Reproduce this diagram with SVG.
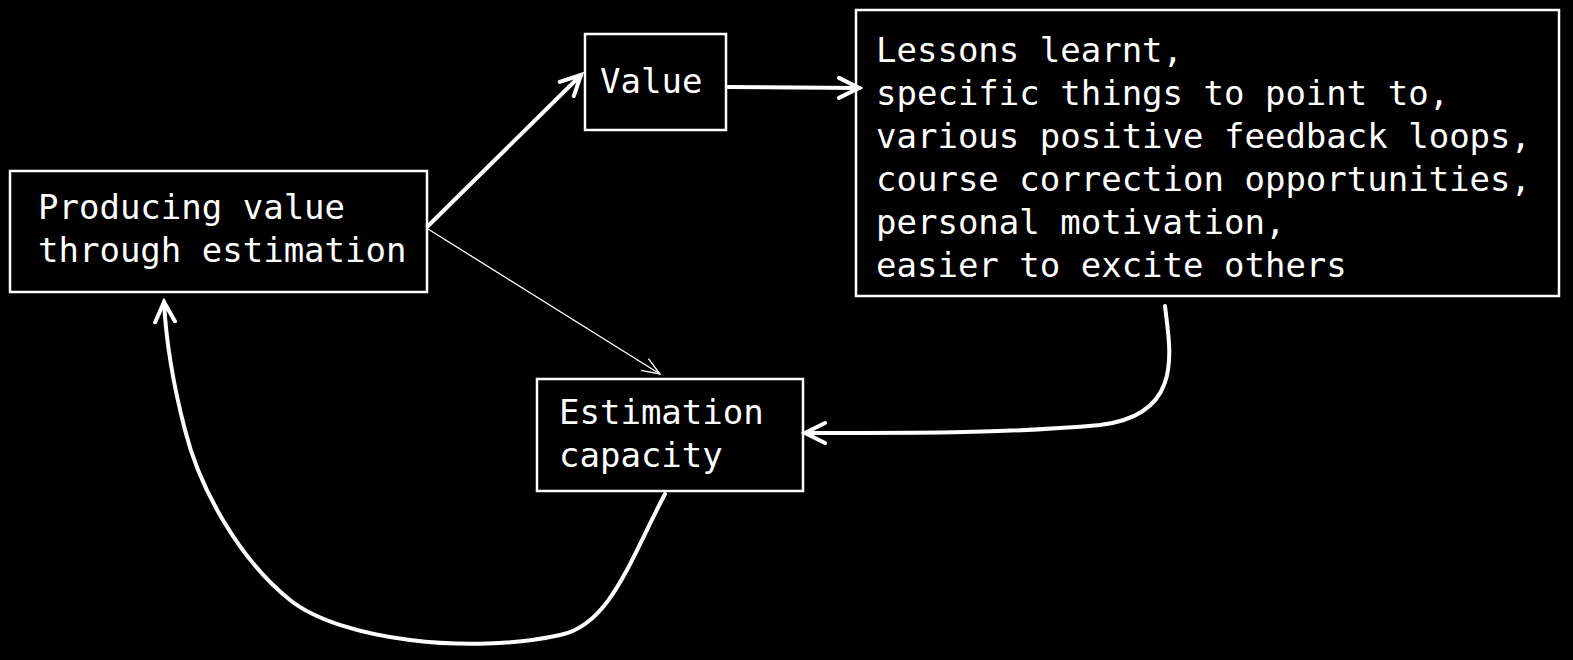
<svg xmlns="http://www.w3.org/2000/svg" width="1573" height="660" viewBox="0 0 1573 660">
<style>
.box{fill:none;stroke:#fff;stroke-width:2.5}
.t{font-family:"DejaVu Sans Mono",monospace;font-size:34px;fill:#fff}
.c{fill:none;stroke:#fff;stroke-width:4;stroke-linecap:round}
.thin{fill:none;stroke:#fff;stroke-width:1.3}
</style>
<defs>
<marker id="a" markerWidth="12" markerHeight="12" refX="10" refY="6" orient="auto" markerUnits="userSpaceOnUse" viewBox="0 0 12 12">
<polyline points="0,0 10,6 0,12" fill="none" stroke="#fff" stroke-width="3" stroke-linecap="round"/>
</marker>
<marker id="b" markerWidth="26" markerHeight="26" refX="22" refY="13" orient="auto" markerUnits="userSpaceOnUse" viewBox="0 0 26 26">
<polyline points="2,3 22,13 2,23" fill="none" stroke="#fff" stroke-width="4" stroke-linecap="round"/>
</marker>
<marker id="s" markerWidth="26" markerHeight="26" refX="22" refY="13" orient="auto" markerUnits="userSpaceOnUse" viewBox="0 0 26 26">
<polyline points="4,6 22,13 4,20" fill="none" stroke="#fff" stroke-width="1.3"/>
</marker>
</defs>
<rect width="1573" height="660" fill="#000"/>
<g id="producing"><rect class="box" x="10" y="171" width="417" height="121"/>
<text class="t" x="38" y="219">Producing value</text><text class="t" x="38" y="262">through estimation</text></g>
<g id="value"><rect class="box" x="585" y="34" width="141" height="96"/><text class="t" x="600" y="93">Value</text></g>
<g id="lessons"><rect class="box" x="856" y="10" width="703" height="286"/>
<text class="t" x="876" y="62">Lessons learnt,</text>
<text class="t" x="876" y="105">specific things to point to,</text>
<text class="t" x="876" y="148">various positive feedback loops,</text>
<text class="t" x="876" y="191">course correction opportunities,</text>
<text class="t" x="876" y="234">personal motivation,</text>
<text class="t" x="876" y="277">easier to excite others</text></g>
<g id="estimation"><rect class="box" x="537" y="379" width="266" height="112"/>
<text class="t" x="559" y="424">Estimation</text><text class="t" x="559" y="467">capacity</text></g>
<g id="connectors">
<path class="c" d="M428,226 L581,75" marker-end="url(#b)"/>
<path class="c" d="M728,87 L859,88" marker-end="url(#b)"/>
<path class="thin" d="M428,229 L660,374" marker-end="url(#s)"/>
<path class="c" d="M1165,306 C1170,350 1185,415 1100,425 C1000,434 900,433 805,433" marker-end="url(#b)"/>
<path class="c" d="M665,494 C630,560 610,625 560,635 C470,655 340,640 290,600 C240,560 200,490 185,430 C172,380 166,340 164,302" marker-end="url(#b)"/>
</g>
</svg>
